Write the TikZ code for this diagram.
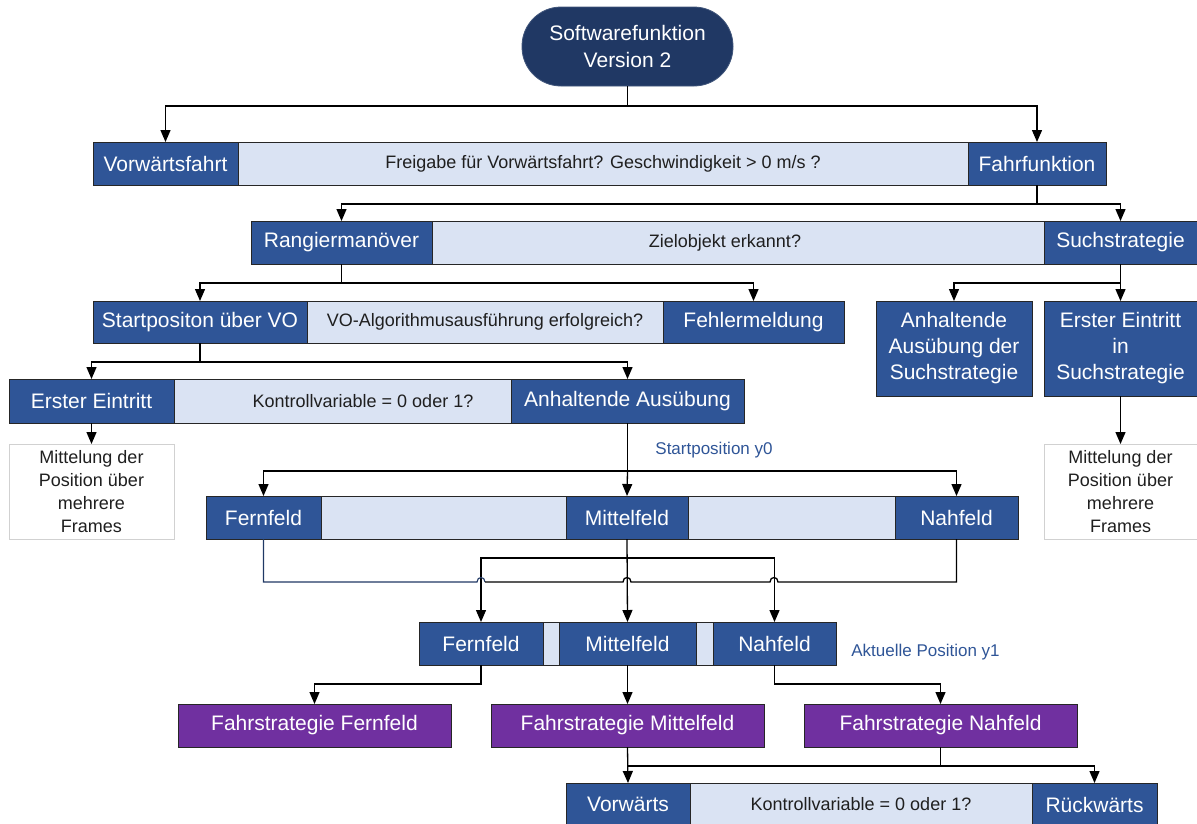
\documentclass[tikz,border=0pt]{standalone}
\usepackage{fontspec}
\setmainfont{Liberation Sans}
\usetikzlibrary{arrows.meta}
\definecolor{navy}{HTML}{203864}
\definecolor{dkblue}{HTML}{2F5597}
\definecolor{ltblue}{HTML}{DAE3F3}
\definecolor{fsviolet}{HTML}{7030A0}
\definecolor{capblue}{HTML}{2F5597}
\begin{document}
\begin{tikzpicture}[x=1pt,y=-1pt,
  box/.style={inner sep=0pt, outer sep=0pt, line width=0.8pt, draw=black!85, align=center},
  dk/.style={box, fill=dkblue, text=white, font=\fontsize{21}{26}\selectfont},
  lt/.style={box, fill=ltblue, text=black!88, font=\fontsize{18}{22}\selectfont},
  pp/.style={box, fill=fsviolet, text=white, font=\fontsize{21}{26}\selectfont},
  wt/.style={box, draw=black!18, fill=white, text=black!88, font=\fontsize{18}{23}\selectfont},
  txt/.style={inner sep=0pt, text=black!88, font=\fontsize{18}{22}\selectfont},
  postext/.style={inner sep=0pt, text=capblue, font=\fontsize{17}{20}\selectfont},
  sz/.style n args={2}{minimum width=#1pt, minimum height=#2pt},
  link/.style={line width=1.3pt, draw=black},
  arr/.style={link, -{Triangle[width=10pt,length=12pt]}}]
\useasboundingbox (0,0) rectangle (1197,823);

% start terminal
\node[box, sz={211}{79}, fill=navy, draw=navy!85, rounded corners=39pt, text=white,
      font=\fontsize{21}{27}\selectfont] (top) at (627.5,46.5) {Softwarefunktion\\Version 2};

% level 1
\node[dk, sz={145}{43}] (vf) at (165.5,163.5) {Vorwärtsfahrt};
\node[lt, sz={730}{43}] (q1) at (603,163.5) {Freigabe für Vorwärtsfahrt? Geschwindigkeit > 0 m/s ?};
\node[dk, sz={138}{43}] (ff) at (1037,163.5) {Fahrfunktion};

% level 2
\node[dk, sz={181}{43}] (rm) at (341.5,242.5) {Rangiermanöver};
\node[lt, sz={612}{43}] (q2) at (738,242.5) {};
\node[txt] (q2t) at (725,242.5) {Zielobjekt erkannt?};
\node[dk, sz={153}{43}] (ss) at (1120.5,242.5) {Suchstrategie};

% level 3
\node[dk, sz={214}{42}] (sp) at (200,322) {Startpositon über VO};
\node[lt, sz={356}{42}] (q3) at (485,322) {VO-Algorithmusausführung erfolgreich?};
\node[dk, sz={181}{42}] (fm) at (753.5,322) {Fehlermeldung};
\node[dk, sz={156}{95}] (as) at (954,348.5) {Anhaltende\\Ausübung der\\Suchstrategie};
\node[dk, sz={153}{95}] (es) at (1120.5,348.5) {Erster Eintritt\\in\\Suchstrategie};

% level 4
\node[dk, sz={165}{44}] (ee) at (91.5,401) {Erster Eintritt};
\node[lt, sz={337}{44}] (q4) at (342.5,401) {};
\node[txt] (q4t) at (363,401) {Kontrollvariable = 0 oder 1?};
\node[dk, sz={233}{44}] (aa) at (627.5,401) {Anhaltende Ausübung};

% averaging boxes
\node[wt, sz={165}{95}] (mw1) at (91.5,491.5) {Mittelung der\\Position über\\mehrere\\Frames};
\node[wt, sz={153}{95}] (mw2) at (1120.5,491.5) {Mittelung der\\Position über\\mehrere\\Frames};

% start position y0
\node[postext] (y0) at (714,450) {Startposition y0};
\node[dk, sz={115}{43}] (f5) at (263.5,517.5) {Fernfeld};
\node[lt, sz={245}{43}] (g5a) at (443.5,517.5) {};
\node[dk, sz={122}{43}] (m5) at (627,517.5) {Mittelfeld};
\node[lt, sz={207}{43}] (g5b) at (791.5,517.5) {};
\node[dk, sz={123}{43}] (n5) at (956.5,517.5) {Nahfeld};

% current position y1
\node[dk, sz={124}{43}] (f6) at (481,643.5) {Fernfeld};
\node[lt, sz={16}{43}] (g6a) at (551,643.5) {};
\node[dk, sz={137}{43}] (m6) at (627.5,643.5) {Mittelfeld};
\node[lt, sz={17}{43}] (g6b) at (704.5,643.5) {};
\node[dk, sz={123}{43}] (n6) at (774.5,643.5) {Nahfeld};
\node[postext] (y1) at (925.5,652) {Aktuelle Position y1};

% driving strategies
\node[pp, sz={273}{43}] (pf) at (314.5,725.5) {Fahrstrategie Fernfeld};
\node[pp, sz={273}{43}] (pm) at (627.5,725.5) {Fahrstrategie Mittelfeld};
\node[pp, sz={273}{43}] (pn) at (940.5,725.5) {Fahrstrategie Nahfeld};

% direction
\node[dk, sz={124}{43}] (vw) at (628,804.5) {Vorwärts};
\node[lt, sz={342}{43}] (q8) at (861,804.5) {Kontrollvariable = 0 oder 1?};
\node[dk, sz={125}{43}] (rw) at (1094.5,804.5) {Rückwärts};

% connectors
\draw[link] (top.south) -- (top.south |- 0,106);
\draw[arr] (top.south |- 0,106) -| (vf.north);
\draw[arr] (top.south |- 0,106) -| (ff.north);

\draw[link] (ff.south) -- (ff.south |- 0,204);
\draw[arr] (ff.south |- 0,204) -| (rm.north);
\draw[arr] (ff.south |- 0,204) -| (ss.north);

\draw[link] (rm.south) -- (rm.south |- 0,283);
\draw[arr] (rm.south |- 0,283) -| (sp.north);
\draw[arr] (rm.south |- 0,283) -| (fm.north);

\draw[link] (ss.south) -- (ss.south |- 0,283);
\draw[arr] (ss.south |- 0,283) -| (as.north);
\draw[arr] (ss.south |- 0,283) -- (es.north);

\draw[link] (sp.south) -- (sp.south |- 0,362);
\draw[arr] (sp.south |- 0,362) -| (ee.north);
\draw[arr] (sp.south |- 0,362) -| (aa.north);

\draw[arr] (ee.south) -- (mw1.north);
\draw[arr] (es.south) -- (mw2.north);

\draw[link] (aa.south) -- (aa.south |- 0,471);
\draw[arr] (aa.south |- 0,471) -| (f5.north);
\draw[arr] (aa.south |- 0,471) -- (m5.north);
\draw[arr] (aa.south |- 0,471) -| (n5.north);

% y0 -> y1 distribution
\draw[arr] (m5.south) -- (m6.north);
\draw[arr] (m5.south |- 0,558) -| (f6.north);
\draw[arr] (m5.south |- 0,558) -| (n6.north);
\draw[line width=1.1pt, draw=navy] (f5.south) -- (f5.south |- 0,582) -- (477,582)
  .. controls (477,576) and (485,576) .. (485,582);
\draw[link] (485,582) -- (623,582)
  .. controls (623,576) and (631,576) .. (631,582) -- (770,582)
  .. controls (770,576) and (778,576) .. (778,582) -- (n5.south |- 0,582) -- (n5.south);

\draw[arr] (f6.south) -- (f6.south |- 0,684) -| (pf.north);
\draw[arr] (m6.south) -- (pm.north);
\draw[arr] (n6.south) -- (n6.south |- 0,684) -| (pn.north);

\draw[arr] (pm.south) -- (vw.north);
\draw[link] (pn.south) -- (pn.south |- 0,766);
\draw[arr] (pm.south |- 0,766) -| (rw.north);
\end{tikzpicture}
\end{document}
